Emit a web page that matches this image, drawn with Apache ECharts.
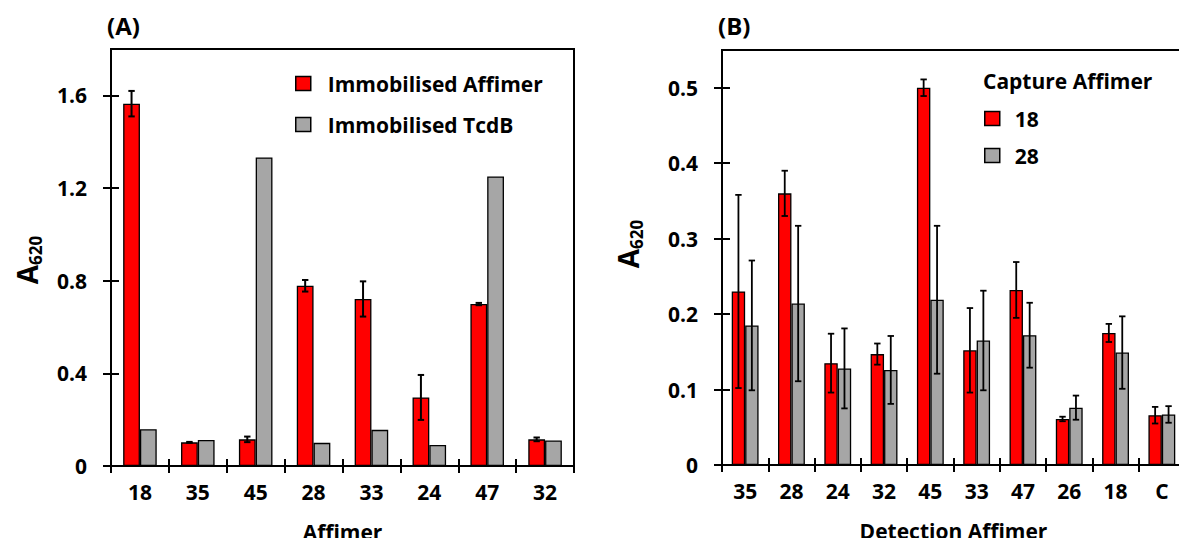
<!DOCTYPE html>
<html>
<head>
<meta charset="utf-8">
<script src="https://cdn.jsdelivr.net/npm/echarts@6/dist/echarts.min.js"></script>
<style>
  html, body { margin: 0; padding: 0; background: #fff; }
  #chart { width: 1179px; height: 538px; }
</style>
</head>
<body>
<div id="chart"></div>
<script>
// Panel A: binding of each Affimer, immobilised Affimer vs immobilised TcdB
const affimersA = ['18', '35', '45', '28', '33', '24', '47', '32'];
const immobAffimer = [1.564, 0.102, 0.115, 0.778, 0.721, 0.296, 0.699, 0.115];
const immobAffimerErr = [0.055, 0.002, 0.012, 0.025, 0.076, 0.097, 0.005, 0.008];
const immobTcdB = [0.159, 0.112, 1.332, 0.100, 0.156, 0.091, 1.250, 0.110];
const ticksA = [0, 0.4, 0.8, 1.2, 1.6];
const maxA = 1.8;

// Panel B: sandwich pairs, detection Affimer vs capture Affimer 18 / 28
const detectionB = ['35', '28', '24', '32', '45', '33', '47', '26', '18', 'C'];
const capture18 = [0.230, 0.360, 0.135, 0.147, 0.500, 0.152, 0.232, 0.061, 0.175, 0.066];
const capture18Err = [0.128, 0.030, 0.039, 0.014, 0.011, 0.056, 0.037, 0.003, 0.012, 0.011];
const capture28 = [0.185, 0.214, 0.128, 0.126, 0.219, 0.165, 0.172, 0.076, 0.149, 0.067];
const capture28Err = [0.086, 0.103, 0.053, 0.045, 0.098, 0.066, 0.043, 0.016, 0.048, 0.011];
const ticksB = [0, 0.1, 0.2, 0.3, 0.4, 0.5];
const maxB = 0.55;

const FONT = 'Open Sans';
const RED = '#FF0000';
const GREY = '#A6A6A6';
const CAT_GAP = 0.42;
const black = { color: '#000', width: 2 };
const boldText = (size) => ({ fontFamily: FONT, fontWeight: 'bold', fontSize: size, color: '#000' });

// plot areas (panel B's right edge runs just past the canvas)
const gridA = { left: 111, top: 49, width: 463, height: 417 };
const gridB = { left: 722, top: 50, width: 463, height: 415 };

// main axis plus an axis carrying the inner half of the crossing ticks
function categoryAxes(gridIndex, data, name) {
  return [
    {
      type: 'category', gridIndex, data, position: 'bottom',
      axisLine: { show: true, lineStyle: black },
      axisTick: { show: true, length: 7, lineStyle: black },
      axisLabel: Object.assign({ margin: 15 }, boldText(21)),
      name, nameLocation: 'middle', nameGap: 55,
      nameTextStyle: boldText(21)
    },
    {
      type: 'category', gridIndex, data, position: 'bottom',
      axisLine: { show: false },
      axisTick: { show: true, inside: true, length: 7, lineStyle: black },
      axisLabel: { show: false }
    }
  ];
}

function valueAxes(gridIndex, max, ticks) {
  const common = { type: 'value', gridIndex, min: 0, max, position: 'left', splitLine: { show: false } };
  return [
    Object.assign({}, common, {
      axisLine: { show: true, lineStyle: black },
      axisTick: { show: true, length: 8, customValues: ticks, lineStyle: black },
      axisLabel: Object.assign({ margin: 24, customValues: ticks }, boldText(21))
    }),
    Object.assign({}, common, {
      axisLine: { show: false },
      axisTick: { show: true, inside: true, length: 8, customValues: ticks, lineStyle: black },
      axisLabel: { show: false }
    })
  ];
}

function barSeries(name, axisIndex, data, color) {
  return {
    type: 'bar', name, xAxisIndex: axisIndex, yAxisIndex: axisIndex, data,
    barGap: '0%', barCategoryGap: (CAT_GAP * 100) + '%',
    itemStyle: { color, borderColor: '#000', borderWidth: 1.3 },
    emphasis: { disabled: true }
  };
}

// Error bars centred on the left (side -1) or right (side +1) bar of each pair
function errorBars(axisIndex, values, errs, side, width) {
  return {
    type: 'custom', xAxisIndex: axisIndex, yAxisIndex: axisIndex, z: 10, silent: true,
    data: values.map((v, i) => [i, v, errs[i]]),
    encode: { x: 0, y: 1 },
    renderItem(params, api) {
      const i = api.value(0), v = api.value(1), e = api.value(2);
      const band = api.size([1, 0])[0];
      const bw = band * (1 - CAT_GAP) / 2;
      const cx = api.coord([i, v])[0] + side * bw / 2;
      const yTop = api.coord([i, v + e])[1];
      const yBot = api.coord([i, v - e])[1];
      const cap = 3.2;
      const style = { stroke: '#000', lineWidth: width };
      return {
        type: 'group',
        children: [
          { type: 'line', shape: { x1: cx, y1: yTop, x2: cx, y2: yBot }, style },
          { type: 'line', shape: { x1: cx - cap, y1: yTop, x2: cx + cap, y2: yTop }, style },
          { type: 'line', shape: { x1: cx - cap, y1: yBot, x2: cx + cap, y2: yBot }, style }
        ]
      };
    }
  };
}

function legendBlock(names, left, top, gap, textPad) {
  return {
    data: names, orient: 'vertical', left, top, padding: 0, itemGap: gap,
    itemWidth: 15, itemHeight: 14, icon: 'rect', selectedMode: false,
    itemStyle: { borderColor: '#000', borderWidth: 1.5 },
    textStyle: Object.assign({ padding: [0, 0, 0, textPad] }, boldText(21))
  };
}

function yTitle(x, y) {
  return {
    type: 'text', x, y, rotation: Math.PI / 2, silent: true,
    style: {
      text: '{a|A}{s|620}',
      align: 'center', verticalAlign: 'middle',
      rich: {
        a: { fontFamily: FONT, fontWeight: 'bold', fontSize: 28, lineHeight: 34, fill: '#000' },
        s: { fontFamily: FONT, fontWeight: 'bold', fontSize: 17, lineHeight: 17, verticalAlign: 'bottom', fill: '#000' }
      }
    }
  };
}

// top and right edges of a plot area
function frameLines(g) {
  const x1 = g.left, x2 = g.left + g.width, y1 = g.top, y2 = g.top + g.height;
  const style = { stroke: '#000', lineWidth: 2 };
  return [
    { type: 'line', z: 100, shape: { x1: x1 - 1, y1: y1, x2: x2 + 1, y2: y1 }, style },
    { type: 'line', z: 100, shape: { x1: x2, y1: y1, x2: x2, y2: y2 }, style }
  ];
}

const xA = categoryAxes(0, affimersA, 'Affimer');            // x indices 0,1
const xB = categoryAxes(1, detectionB, 'Detection Affimer'); // x indices 2,3
const yA = valueAxes(0, maxA, ticksA);                       // y indices 0,1
const yB = valueAxes(1, maxB, ticksB);                       // y indices 2,3

const option = {
  animation: false,
  backgroundColor: '#fff',
  title: [
    { text: '(A)', left: 107, top: 13, padding: 0, textStyle: boldText(24) },
    { text: '(B)', left: 718, top: 13, padding: 0, textStyle: boldText(24) },
    { text: 'Capture Affimer', left: 983, top: 70, padding: 0, textStyle: boldText(21) }
  ],
  legend: [
    legendBlock(['Immobilised Affimer', 'Immobilised TcdB'], 295, 73, 20, 12),
    legendBlock(['18', '28'], 984, 108, 16, 10)
  ],
  grid: [
    Object.assign({ outerBoundsMode: 'none', show: true, borderColor: '#000', borderWidth: 2, backgroundColor: 'rgba(0,0,0,0)' }, gridA),
    Object.assign({ outerBoundsMode: 'none', show: true, borderColor: '#000', borderWidth: 2, backgroundColor: 'rgba(0,0,0,0)' }, gridB)
  ],
  xAxis: xA.concat(xB),
  yAxis: yA.concat(yB),
  series: [
    barSeries('Immobilised Affimer', 0, immobAffimer, RED),
    barSeries('Immobilised TcdB', 0, immobTcdB, GREY),
    errorBars(0, immobAffimer, immobAffimerErr, -1, 2),
    barSeries('18', 2, capture18, RED),
    barSeries('28', 2, capture28, GREY),
    errorBars(2, capture18, capture18Err, -1, 1.8),
    errorBars(2, capture28, capture28Err, 1, 1.8)
  ],
  graphic: frameLines(gridA).concat(frameLines(gridB), [yTitle(27, 260), yTitle(628, 244)])
};

// SVG output keeps every stroke as its own element
const chart = echarts.init(document.getElementById('chart'), null, { renderer: 'svg' });
chart.setOption(option);
</script>
</body>
</html>
